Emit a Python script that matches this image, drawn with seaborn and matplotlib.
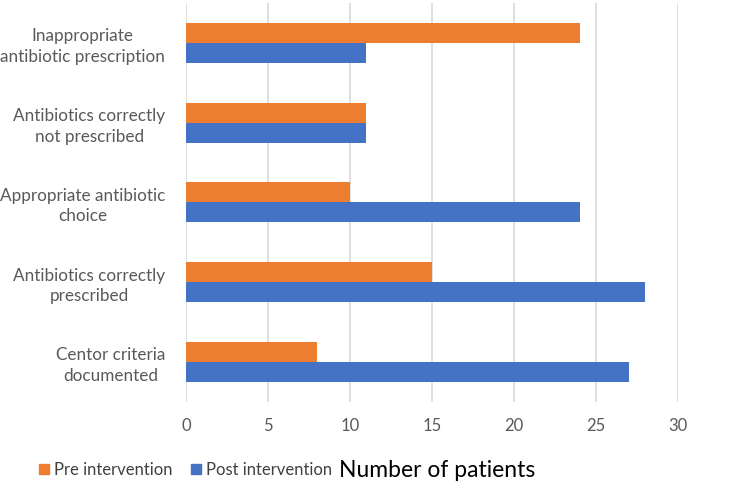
import pandas as pd
import matplotlib.pyplot as plt
import seaborn as sns

# ============================================================
# DATA
# ============================================================
categories = [
    "Inappropriate\nantibiotic prescription",
    "Antibiotics correctly\nnot prescribed",
    "Appropriate antibiotic\nchoice",
    "Antibiotics correctly\nprescribed",
    "Centor criteria\ndocumented",
]
pre_values = [24, 11, 10, 15, 8]
post_values = [11, 11, 24, 28, 27]
groups = ["Pre intervention", "Post intervention"]
x_ticks = [0, 5, 10, 15, 20, 25, 30]

df = pd.DataFrame({
    "category": categories * 2,
    "group": [groups[0]] * len(categories) + [groups[1]] * len(categories),
    "patients": pre_values + post_values,
})

# ============================================================
# STYLE
# ============================================================
sns.set_style("white")
plt.rcParams["font.family"] = ["Lato", "DejaVu Sans"]
COLORS = {"Pre intervention": "#ED7D31", "Post intervention": "#4472C4"}

# ============================================================
# CHART
# ============================================================
fig = plt.figure(figsize=(7.5, 4.9), dpi=100)
ax = fig.add_axes([0.248, 0.18, 0.656, 0.814])

sns.barplot(data=df, y="category", x="patients", hue="group",
            hue_order=groups, palette=COLORS, orient="h", saturation=1,
            width=0.5, gap=0, linewidth=0, ax=ax, legend=False)

ax.set_xlim(0, 30)
ax.set_ylim(4.5, -0.5)
ax.set_xticks(x_ticks)
ax.xaxis.grid(True, color="#d9d9d9", linewidth=1.2)
ax.set_axisbelow(True)
for s in ax.spines.values():
    s.set_visible(False)
ax.tick_params(axis="x", length=0, labelsize=12, labelcolor="#595959", pad=12)
ax.tick_params(axis="y", length=0, labelsize=12.3, labelcolor="#595959", pad=15)
for lbl in ax.get_yticklabels():
    lbl.set_multialignment("center")
    lbl.set_linespacing(1.35)

ax.set_ylabel("")
ax.set_xlabel("Number of patients", fontsize=16.5, color="black", labelpad=14)
ax.xaxis.set_label_coords(0.51, -0.145)

handles = [plt.Rectangle((0, 0), 1, 1, color=COLORS[g]) for g in groups]
fig.legend(handles, groups, loc="center left", bbox_to_anchor=(0.052, 1 - 470 / 490),
           ncol=2, frameon=False, fontsize=12, handlelength=0.6, handleheight=0.6,
           handletextpad=0.3, columnspacing=1.1, labelcolor="#404040",
           borderpad=0, borderaxespad=0)

fig.savefig("out.png", dpi=100)
